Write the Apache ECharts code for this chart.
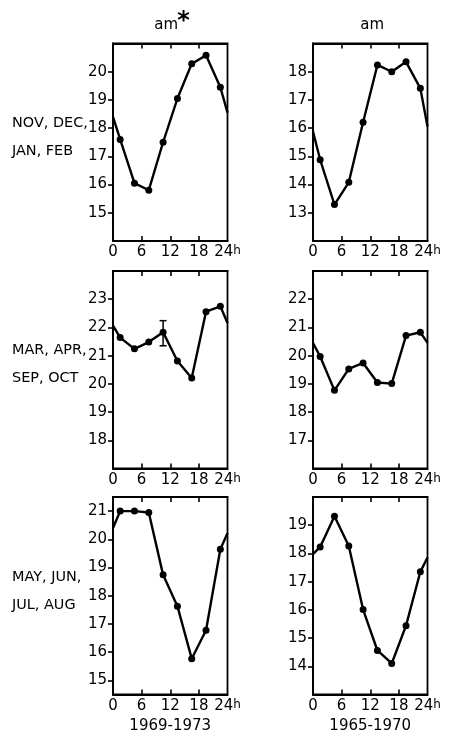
<!DOCTYPE html>
<html>
<head>
<meta charset="utf-8">
<script src="https://cdn.jsdelivr.net/npm/echarts@6/dist/echarts.min.js"></script>
<style>
  html, body { margin: 0; padding: 0; background: #fff; }
  #chart { width: 449px; height: 736px; }
</style>
</head>
<body>
<div id="chart"></div>
<script>
// Local hour of each 3-hour bin centre, plus the 0h and 24h edges where each curve meets the frame
const hours = [0, 1.5, 4.5, 7.5, 10.5, 13.5, 16.5, 19.5, 22.5, 24];
const xTicks = [0, 6, 12, 18, 24];

// am* index, 1969-1973
const amStarWinter  = [18.4, 17.6, 16.05, 15.8, 17.5, 19.05, 20.28, 20.58, 19.45, 18.55];
const amStarEquinox = [22.06, 21.64, 21.24, 21.48, 21.83, 20.81, 20.21, 22.56, 22.75, 22.16];
const amStarSummer  = [20.4, 21.0, 21.0, 20.95, 18.74, 17.63, 15.77, 16.78, 19.65, 20.22];

// am index, 1965-1970
const amWinter  = [15.88, 14.88, 13.29, 14.08, 16.21, 18.24, 18.0, 18.35, 17.41, 16.06];
const amEquinox = [20.45, 19.97, 18.77, 19.53, 19.74, 19.05, 19.01, 20.71, 20.83, 20.45];
const amSummer  = [17.97, 18.23, 19.32, 18.26, 16.01, 14.56, 14.1, 15.44, 17.35, 17.85];

// Error bar on the equinox am* curve
const errHour = [10.5];
const errLow  = [21.35];
const errHigh = [22.24];

// Y tick labels of each panel
const yTicksStarWinter  = [15, 16, 17, 18, 19, 20];
const yTicksWinter      = [13, 14, 15, 16, 17, 18];
const yTicksStarEquinox = [18, 19, 20, 21, 22, 23];
const yTicksEquinox     = [17, 18, 19, 20, 21, 22];
const yTicksStarSummer  = [15, 16, 17, 18, 19, 20, 21];
const yTicksSummer      = [14, 15, 16, 17, 18, 19];

// Y extents of each panel
const yRangeStarWinter  = [14, 21];
const yRangeWinter      = [12, 19];
const yRangeStarEquinox = [17, 24];
const yRangeEquinox     = [16, 23];
const yRangeStarSummer  = [14.5, 21.5];
const yRangeSummer      = [13, 20];

const rowLabels = [['NOV, DEC,', 'JAN, FEB'], ['MAR, APR,', 'SEP, OCT'], ['MAY, JUN,', 'JUL, AUG']];
const columnTitles = ['am', 'am'];
const periods = ['1969-1973', '1965-1970'];

const FONT = '"DejaVu Sans", sans-serif';
const INK = '#000';

// Panel geometry (row-major: left column then right column)
const colLeft = [113, 313];
const rowTop = [43.5, 271, 497];
const panelW = 114.5;
const panelH = 197.5;

const panels = [
  { vals: amStarWinter,  ticks: yTicksStarWinter,  range: yRangeStarWinter },
  { vals: amWinter,      ticks: yTicksWinter,      range: yRangeWinter },
  { vals: amStarEquinox, ticks: yTicksStarEquinox, range: yRangeStarEquinox },
  { vals: amEquinox,     ticks: yTicksEquinox,     range: yRangeEquinox },
  { vals: amStarSummer,  ticks: yTicksStarSummer,  range: yRangeStarSummer },
  { vals: amSummer,      ticks: yTicksSummer,      range: yRangeSummer }
];

const grid = [], xAxis = [], yAxis = [], series = [];

panels.forEach((p, i) => {
  const row = Math.floor(i / 2), col = i % 2;
  grid.push({
    left: colLeft[col], top: rowTop[row], width: panelW, height: panelH,
    show: true, borderColor: INK, borderWidth: 1.8, backgroundColor: 'transparent'
  });
  const axisLine = { show: true, onZero: false, lineStyle: { color: INK, width: 1.8 } };
  // bottom axis with hour labels
  xAxis.push({
    gridIndex: i, type: 'value', min: 0, max: 24, interval: 6, position: 'bottom',
    axisLine,
    axisTick: { show: true, inside: true, length: 5, customValues: [6, 12, 18],
                lineStyle: { color: INK, width: 1.6 } },
    axisLabel: {
      customValues: xTicks, margin: 4, color: INK, fontSize: 15, fontFamily: FONT,
      formatter: v => v === 24 ? '{n|24}{h|h}' : '{n|' + v + '}',
      rich: {
        n: { fontSize: 15, fontFamily: FONT, color: INK, lineHeight: 17, verticalAlign: 'top' },
        h: { fontSize: 12, fontFamily: FONT, color: INK, lineHeight: 10, verticalAlign: 'top' }
      }
    },
    splitLine: { show: false }
  });
  // top axis: inward ticks only
  xAxis.push({
    gridIndex: i, type: 'value', min: 0, max: 24, interval: 6, position: 'top',
    axisLine,
    axisTick: { show: true, inside: true, length: 5, customValues: [6, 12, 18],
                lineStyle: { color: INK, width: 1.6 } },
    axisLabel: { show: false },
    splitLine: { show: false }
  });
  yAxis.push({
    gridIndex: i, type: 'value', min: p.range[0], max: p.range[1], position: 'left',
    axisLine,
    axisTick: { show: true, inside: false, length: 5, customValues: p.ticks,
                lineStyle: { color: INK, width: 1.6 } },
    axisLabel: { customValues: p.ticks, margin: 6, color: INK, fontSize: 15, fontFamily: FONT },
    splitLine: { show: false }
  });
  const last = hours.length - 1;
  series.push({
    type: 'line', xAxisIndex: 2 * i, yAxisIndex: i,
    data: hours.map((h, k) => (k === 0 || k === last)
      ? { value: [h, p.vals[k]], symbol: 'none' }
      : [h, p.vals[k]]),
    symbol: 'circle', symbolSize: 7, showAllSymbol: true,
    lineStyle: { color: INK, width: 2.4 },
    itemStyle: { color: INK },
    clip: true, z: 3, silent: true
  });
});

// I-beam error bar on the am* equinox panel
series.push({
  type: 'custom', xAxisIndex: 4, yAxisIndex: 2, z: 4, silent: true,
  data: errHour.map((h, k) => [h, errLow[k], errHigh[k]]),
  encode: { x: 0, y: [1, 2] },
  renderItem: (params, api) => {
    const lo = api.coord([api.value(0), api.value(1)]);
    const hi = api.coord([api.value(0), api.value(2)]);
    const w = 3.5;
    const st = { stroke: INK, lineWidth: 1.5 };
    return {
      type: 'group',
      children: [
        { type: 'line', shape: { x1: lo[0], y1: lo[1], x2: hi[0], y2: hi[1] }, style: st },
        { type: 'line', shape: { x1: lo[0] - w, y1: lo[1], x2: lo[0] + w, y2: lo[1] }, style: st },
        { type: 'line', shape: { x1: hi[0] - w, y1: hi[1], x2: hi[0] + w, y2: hi[1] }, style: st }
      ]
    };
  }
});

// Free text: column titles, row labels, period labels
const graphic = [];
const textStyle = (t, size) => ({ text: t, fill: INK, font: size + 'px ' + FONT });

columnTitles.forEach((t, c) => {
  const cx = colLeft[c] + panelW / 2;
  graphic.push({ type: 'text', x: cx - (c === 0 ? 4 : -2), y: 25,
    style: Object.assign(textStyle(t, 15), { align: 'center', verticalAlign: 'middle' }) });
});
// superscript asterisk after the first title
graphic.push({ type: 'text', x: colLeft[0] + panelW / 2 + 7, y: 22,
  style: { text: '*', fill: INK, font: 'bold 24px ' + FONT, align: 'left', verticalAlign: 'middle' } });

rowLabels.forEach((lines, r) => {
  const yc = [123.5, 350.7, 577][r];
  lines.forEach((t, k) => {
    graphic.push({ type: 'text', x: 12, y: yc + k * 28, scaleX: 1.03,
      style: Object.assign(textStyle(t, 14), { align: 'left', verticalAlign: 'middle' }) });
  });
});

periods.forEach((t, c) => {
  graphic.push({ type: 'text', x: colLeft[c] + panelW / 2, y: 726,
    style: Object.assign(textStyle(t, 15), { align: 'center', verticalAlign: 'middle' }) });
});

const chart = echarts.init(document.getElementById('chart'), null, { renderer: 'canvas' });
chart.setOption({
  animation: false,
  backgroundColor: '#fff',
  grid, xAxis, yAxis, series, graphic
});
</script>
</body>
</html>
